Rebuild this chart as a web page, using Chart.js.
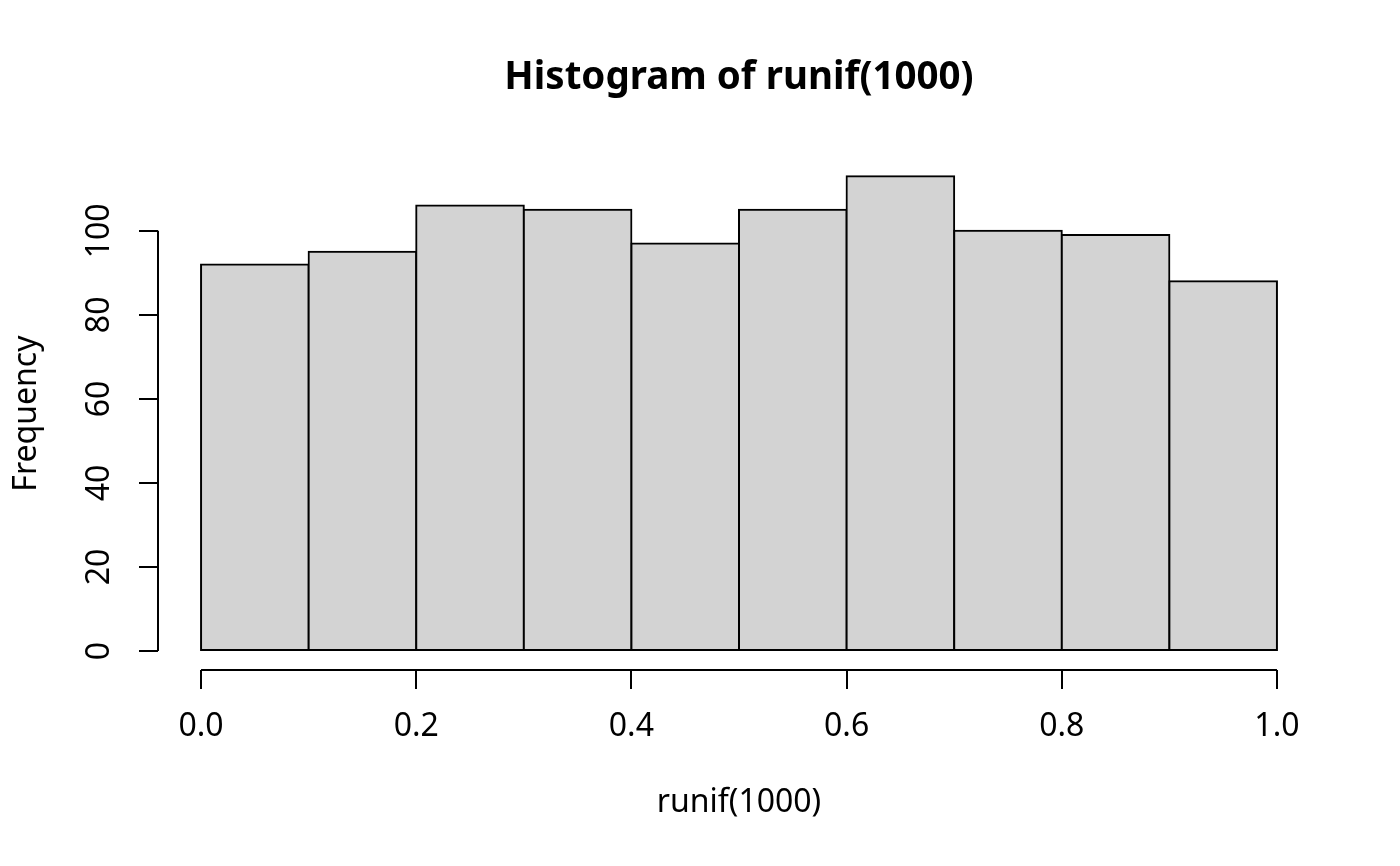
<!DOCTYPE html>
<html>
<head>
<meta charset="utf-8">
<title>Histogram of runif(1000)</title>
<script src="https://cdn.jsdelivr.net/npm/chart.js@4.4.1/dist/chart.umd.min.js"></script>
<style>
    html, body { margin: 0; padding: 0; background: #fff; }
    #wrap { width: 1400px; height: 866px; }
</style>
</head>
<body>
<div id="wrap"><canvas id="hist" width="1400" height="866"></canvas></div>
<script>
// Bin edges and counts of the histogram
const breaks = [0.0, 0.1, 0.2, 0.3, 0.4, 0.5, 0.6, 0.7, 0.8, 0.9, 1.0];
const counts = [92, 95, 106, 105, 97, 105, 113, 100, 99, 88];

// Tick labels
const xTicks = [0.0, 0.2, 0.4, 0.6, 0.8, 1.0];
const yTicks = [0, 20, 40, 60, 80, 100];

// Bars sit at the middle of each bin
const mids = counts.map((c, i) => (breaks[i] + breaks[i + 1]) / 2);

// R pads the axis range by 4% on each side
const xPad = (breaks[breaks.length - 1] - breaks[0]) * 0.04;
const yPad = Math.max(...counts) * 0.04;

Chart.defaults.font.family = "'Noto Sans', 'Open Sans', sans-serif";
Chart.defaults.color = '#000';

// Axis lines only span first to last tick, like R's axis()
const axisLines = {
    id: 'axisLines',
    afterDraw(chart) {
        const { ctx, scales: { x, y } } = chart;
        ctx.save();
        ctx.strokeStyle = '#000';
        ctx.lineWidth = 2;
        ctx.beginPath();
        ctx.moveTo(x.getPixelForValue(xTicks[0]), x.top);
        ctx.lineTo(x.getPixelForValue(xTicks[xTicks.length - 1]), x.top);
        ctx.moveTo(y.right, y.getPixelForValue(yTicks[0]));
        ctx.lineTo(y.right, y.getPixelForValue(yTicks[yTicks.length - 1]));
        ctx.stroke();
        ctx.restore();
    }
};

new Chart(document.getElementById('hist'), {
    type: 'bar',
    data: {
        datasets: [{
            data: counts.map((c, i) => ({ x: mids[i], y: c })),
            backgroundColor: '#d3d3d3',
            borderColor: '#000',
            borderWidth: 2,
            borderSkipped: false,
            inflateAmount: 1,
            barPercentage: 1,
            categoryPercentage: 1
        }]
    },
    options: {
        responsive: false,
        animation: false,
        layout: { padding: { left: 0, right: 80, top: 0, bottom: 0 } },
        plugins: {
            legend: { display: false },
            tooltip: { enabled: false },
            title: {
                display: true,
                fullSize: false, // centre over the plot area, not the canvas
                text: 'Histogram of runif(1000)',
                font: { size: 38.5, weight: 'bold' },
                color: '#000',
                padding: { top: 55, bottom: 56 }
            }
        },
        scales: {
            x: {
                type: 'linear',
                min: breaks[0] - xPad,
                max: breaks[breaks.length - 1] + xPad,
                offset: false,
                afterBuildTicks: s => { s.ticks = xTicks.map(v => ({ value: v })); },
                afterFit: s => { s.height = 196; },
                border: { display: false },
                grid: {
                    offset: false,
                    drawOnChartArea: false,
                    drawTicks: true,
                    tickLength: 19,
                    color: '#000',
                    lineWidth: 2
                },
                ticks: {
                    font: { size: 32 },
                    color: '#000',
                    padding: 19,
                    minRotation: 0,
                    maxRotation: 0,
                    autoSkip: false,
                    callback: v => v.toFixed(1)
                },
                title: {
                    display: true,
                    text: 'runif(1000)',
                    font: { size: 32 },
                    color: '#000',
                    padding: { top: 0, bottom: 44 }
                }
            },
            y: {
                type: 'linear',
                min: -yPad,
                max: Math.max(...counts) + yPad,
                afterBuildTicks: s => { s.ticks = yTicks.map(v => ({ value: v })); },
                afterFit: s => { s.width = 158; },
                border: { display: false },
                grid: {
                    drawOnChartArea: false,
                    drawTicks: true,
                    tickLength: 19,
                    color: '#000',
                    lineWidth: 2
                },
                ticks: {
                    font: { size: 32 },
                    color: '#000',
                    padding: 12,
                    minRotation: 90,
                    maxRotation: 90,
                    crossAlign: 'center',
                    autoSkip: false,
                    callback: v => String(v)
                },
                title: {
                    display: true,
                    text: 'Frequency',
                    font: { size: 32 },
                    color: '#000',
                    padding: { top: 8, bottom: 0 }
                }
            }
        }
    },
    plugins: [axisLines]
});
</script>
</body>
</html>
